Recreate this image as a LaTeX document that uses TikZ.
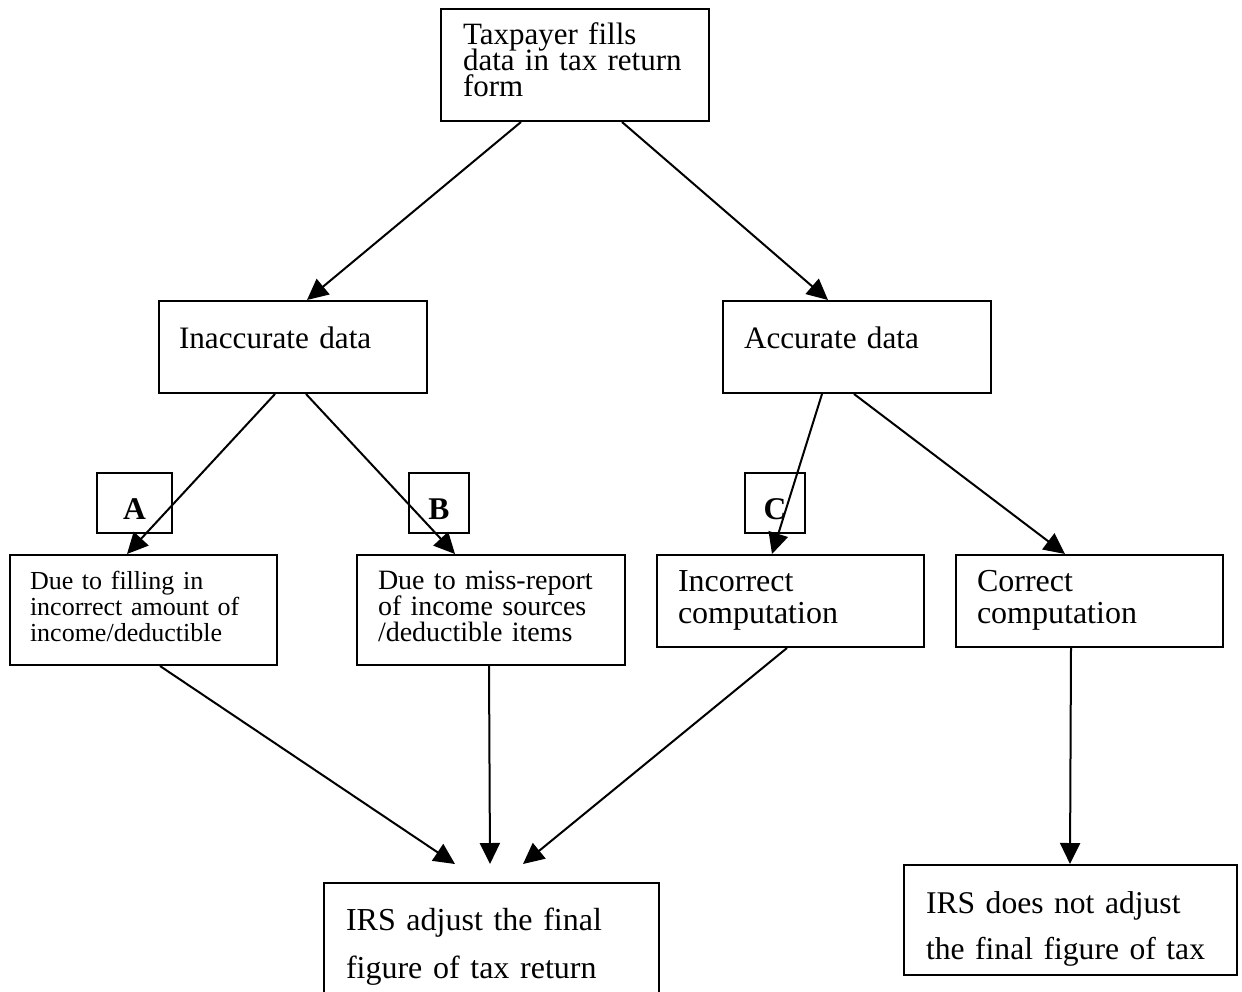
\documentclass[tikz,border=0pt]{standalone}
\usepackage{fontspec}
\setmainfont{Liberation Serif}
\usepackage{tikz}
\usetikzlibrary{arrows.meta}
\usetikzlibrary{calc}
\newcommand{\boxfont}[2]{\fontsize{#1}{#2}\selectfont\lineskiplimit=-20pt\relax}
\tikzset{>={Triangle[length=10.5pt,width=10pt]},
  box/.style={draw,line width=1pt,anchor=north west,inner ysep=0pt,align=left},
  tag/.style={draw,line width=1pt,anchor=north west,inner sep=0pt,
    minimum height=30pt,text height=23pt,text depth=7pt,
    font=\boxfont{15.8pt}{16pt}\bfseries}}

\begin{document}
\begin{tikzpicture}[x=0.5pt,y=-0.5pt,line width=1pt]
  \useasboundingbox (0,0) rectangle (1242,991);

  \node [box,inner xsep=11pt,text width=112pt,text height=17.5pt,text depth=38.5pt,
    font=\boxfont{15.5pt}{13pt}] (taxpayer) at (440,8)
    {Taxpayer fills\\data in tax return\\form};

  \node [box,inner xsep=10pt,text width=114pt,text height=23.5pt,text depth=22.5pt,
    font=\boxfont{15.6pt}{16pt}] (inaccurate) at (158,300) {Inaccurate data};
  \node [box,inner xsep=10.5pt,text width=113pt,text height=23.5pt,text depth=22.5pt,
    font=\boxfont{15.6pt}{16pt}] (accurate) at (722,300) {Accurate data};

  \node [tag,minimum width=37.5pt] (tagA) at (96,472) {A\hspace{6pt}};
  \node [tag,minimum width=30pt] (tagB) at (408,472) {B};
  \node [tag,minimum width=30pt] (tagC) at (744,472) {C};

  \node [box,inner xsep=10pt,text width=113.5pt,text height=17pt,text depth=38pt,
    font=\boxfont{13pt}{13pt}] (filling) at (9,554)
    {Due to filling in\\incorrect amount of\\income/deductible};
  \node [box,inner xsep=10.5pt,text width=113pt,text height=17pt,text depth=38pt,
    font=\boxfont{14pt}{13pt}] (missreport) at (356,554)
    {Due to miss-report\\of income sources\\/deductible items};
  \node [box,inner xsep=10.5pt,text width=112.5pt,text height=18pt,text depth=28pt,
    font=\boxfont{16pt}{16pt}] (incorrect) at (656,554)
    {Incorrect\\computation};
  \node [box,inner xsep=10.5pt,text width=112.5pt,text height=18pt,text depth=28pt,
    font=\boxfont{16pt}{16pt}] (correct) at (955,554)
    {Correct\\computation};

  \node [box,inner xsep=11pt,text width=145.5pt,text height=23.5pt,text depth=35.5pt,
    font=\boxfont{16pt}{24pt}] (adjust) at (323,882)
    {IRS adjust the final\\figure of tax return};
  \node [box,inner xsep=11pt,text width=144.5pt,text height=24pt,text depth=31pt,
    font=\boxfont{15.8pt}{23pt}] (noadjust) at (903,864)
    {IRS does not adjust\\the final figure of tax};

  % first split
  \draw [->] ($(taxpayer.south west)+(81,0)$) -- ($(inaccurate.north west)+(149,0)$);
  \draw [->] ($(taxpayer.south west)+(182,0)$) -- ($(accurate.north west)+(106,0)$);

  \draw [->] ($(inaccurate.south west)+(117,0)$) -- ($(filling.north west)+(118,0)$);
  \draw [->] ($(inaccurate.south west)+(148,0)$) -- ($(missreport.north west)+(99,0)$);
  \draw [->] ($(accurate.south west)+(100,0)$) -- ($(incorrect.north west)+(116,0)$);
  \draw [->] ($(accurate.south west)+(132,0)$) -- ($(correct.north west)+(110,0)$);

  % to the IRS
  \draw [->] ($(filling.south west)+(151,0)$) -- ($(adjust.north west)+(132,-18)$);
  \draw [->] ($(missreport.south west)+(133,0)$) -- ($(adjust.north west)+(167,-18)$);
  \draw [->] ($(incorrect.south west)+(131,0)$) -- ($(adjust.north west)+(200,-18)$);
  \draw [->] ($(correct.south west)+(116,0)$) -- ($(noadjust.north west)+(167,0)$);
\end{tikzpicture}
\end{document}
